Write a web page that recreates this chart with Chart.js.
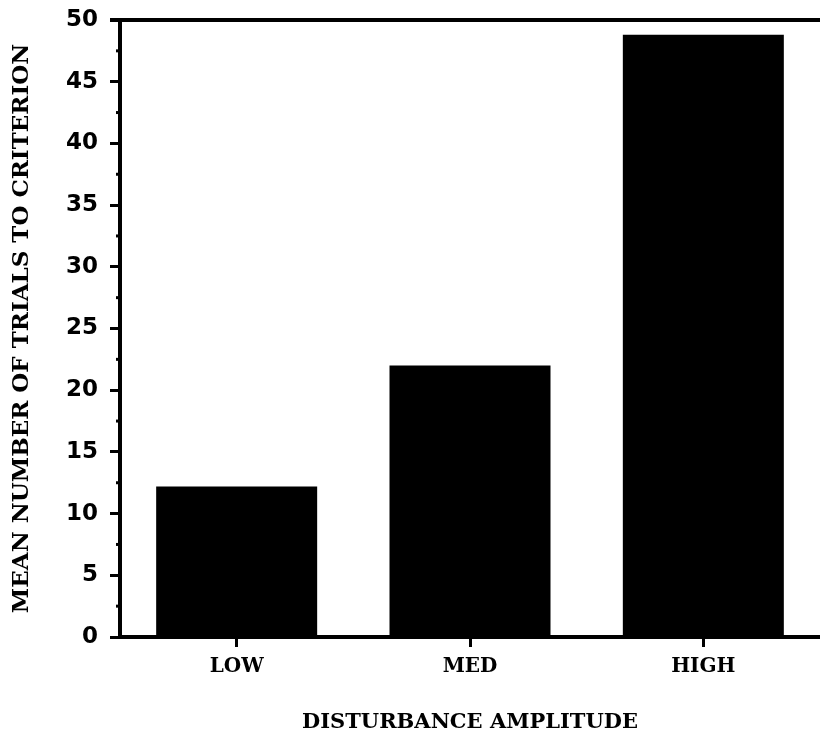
<!DOCTYPE html>
<html>
<head>
<meta charset="utf-8">
<script src="https://cdn.jsdelivr.net/npm/chart.js@4.4.0/dist/chart.umd.min.js"></script>
<style>
  html, body { margin: 0; padding: 0; background: #fff; }
  #wrap { width: 820px; height: 747px; }
</style>
</head>
<body>
<div id="wrap"><canvas id="chart"></canvas></div>
<script>
// data
const categories = ['LOW', 'MED', 'HIGH'];
const trials = [12.2, 22.0, 48.8];
const yTicks = [0, 5, 10, 15, 20, 25, 30, 35, 40, 45, 50];
const minorTicks = [2.5, 7.5, 12.5, 17.5, 22.5, 27.5, 32.5, 37.5, 42.5, 47.5];

const serif = '"DejaVu Serif", "Liberation Serif", serif';
const sans = '"DejaVu Sans", "Liberation Sans", sans-serif';

// top frame line and short minor ticks on the y axis
const framePlugin = {
    id: 'frame',
    afterDraw(chart) {
        const ctx = chart.ctx;
        const area = chart.chartArea;
        const y = chart.scales.y;
        ctx.save();
        ctx.strokeStyle = '#000';
        ctx.lineWidth = 4;
        ctx.beginPath();
        ctx.moveTo(area.left - 10, area.top);
        ctx.lineTo(area.right, area.top);
        ctx.stroke();
        ctx.lineWidth = 3;
        minorTicks.forEach(v => {
            const py = y.getPixelForValue(v);
            ctx.beginPath();
            ctx.moveTo(area.left - 4, py);
            ctx.lineTo(area.left, py);
            ctx.stroke();
        });
        ctx.restore();
    }
};

new Chart(document.getElementById('chart'), {
    type: 'bar',
    data: {
        labels: categories,
        datasets: [{
            data: trials,
            backgroundColor: '#000',
            borderWidth: 0,
            categoryPercentage: 0.69,
            barPercentage: 1.0
        }]
    },
    options: {
        responsive: true,
        maintainAspectRatio: false,
        animation: false,
        layout: { padding: { top: 20, right: 0, left: 0, bottom: 0 } },
        plugins: {
            legend: { display: false },
            tooltip: { enabled: false }
        },
        scales: {
            x: {
                afterFit(scale) { scale.height = 110; },
                border: { display: true, color: '#000', width: 4 },
                grid: { display: true, offset: false, drawOnChartArea: false, tickLength: 10, tickWidth: 3, tickColor: '#000' },
                ticks: {
                    color: '#000',
                    padding: 8,
                    font: { family: serif, size: 20, weight: 'bold' }
                },
                title: {
                    display: true,
                    text: 'DISTURBANCE AMPLITUDE',
                    color: '#000',
                    padding: { top: 14, bottom: 12 },
                    font: { family: serif, size: 21, weight: 'bold' }
                }
            },
            y: {
                min: 0,
                max: 50,
                afterFit(scale) {
                    scale.width = 120;
                    scale.paddingTop = 0;
                    scale.paddingBottom = 0;
                },
                afterBuildTicks(scale) { scale.ticks = yTicks.map(v => ({ value: v })); },
                border: { display: true, color: '#000', width: 4 },
                grid: { display: true, drawOnChartArea: false, tickLength: 10, tickWidth: 3, tickColor: '#000' },
                ticks: {
                    color: '#000',
                    padding: 12,
                    font: { family: sans, size: 23, weight: 'bold' }
                },
                title: {
                    display: true,
                    text: 'MEAN NUMBER OF TRIALS TO CRITERION',
                    color: '#000',
                    padding: { top: 8, bottom: 0 },
                    font: { family: serif, size: 23, weight: 'bold' }
                }
            }
        }
    },
    plugins: [framePlugin]
});
</script>
</body>
</html>
